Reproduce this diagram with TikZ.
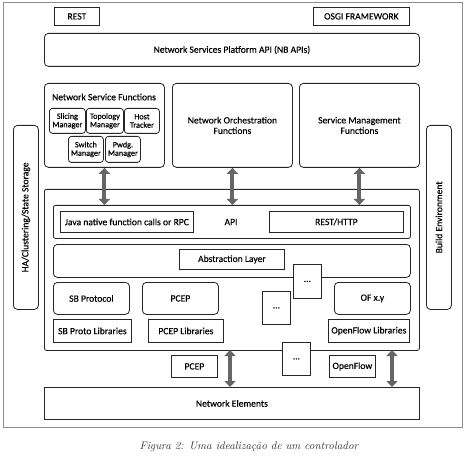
\documentclass[tikz,border=0pt]{standalone}
\usepackage{fontspec}
\setmainfont{Carlito}[FakeBold=0.35]
\newfontfamily\capfont{Latin Modern Roman}
\usetikzlibrary{arrows.meta}
\begin{document}
\begin{tikzpicture}[x=1pt,y=-1pt,
  bx/.style={draw=black!85, line width=0.8pt, anchor=north west, inner sep=0pt, align=center, fill=white, font=\fontsize{9.6}{10.5}\selectfont},
  rbx/.style={bx, rounded corners=4pt},
  sbx/.style={bx, rounded corners=3pt, font=\fontsize{8.2}{8.4}\selectfont},
  lbl/.style={inner sep=0pt, align=center, font=\fontsize{9.6}{10.5}\selectfont},
  dbl/.style={draw=black!60, line width=4pt, {Triangle[width=11pt,length=6pt]}-{Triangle[width=11pt,length=6pt]}}]
\useasboundingbox (0,0) rectangle (465,462);
\draw[black!45, line width=0.8pt] (3,2) rectangle (462,427);
% top
\node[bx, minimum width=45pt, minimum height=18pt] (rest) at (54,7) {REST};
\node[bx, minimum width=96pt, minimum height=18pt] (osgi) at (313,7) {OSGI FRAMEWORK};
\node[rbx, minimum width=375pt, minimum height=33pt] (nb) at (44,33) {Network Services Platform API (NB APIs)};
% function boxes
\node[rbx, minimum width=120pt, minimum height=84pt] (nsf) at (44,83) {};
\node[lbl] (nsft) at (104,97) {Network Service Functions};
\node[sbx, minimum width=36pt, minimum height=25pt] (slice) at (49,108) {Slicing\\Manager};
\node[sbx, minimum width=37pt, minimum height=25pt] (topo) at (86,108) {Topology\\Manager};
\node[sbx, minimum width=35pt, minimum height=25pt] (host) at (124,108) {Host\\Tracker};
\node[sbx, minimum width=35pt, minimum height=26pt] (switch) at (68,136) {Switch\\Manager};
\node[sbx, minimum width=35pt, minimum height=26pt] (pwdg) at (105,136) {Pwdg.\\Manager};
\node[rbx, minimum width=120pt, minimum height=84pt] (orch) at (172,83) {Network Orchestration\\Functions};
\node[rbx, minimum width=120pt, minimum height=84pt] (smf) at (299,83) {Service Management\\Functions};
% side boxes
\node[rbx, minimum width=25pt, minimum height=184pt] (left) at (13,125) {};
\node[lbl, rotate=90] (leftt) at (left.center) {HA/Clustering/State Storage};
\node[rbx, minimum width=25pt, minimum height=184pt] (right) at (426,125) {};
\node[lbl, rotate=90] (rightt) at (right.center) {Build Environment};
% controller
\node[bx, rounded corners=2pt, minimum width=375pt, minimum height=161pt] (ctrl) at (44,189) {};
\node[bx, rounded corners=2pt, minimum width=357pt, minimum height=33pt] (api) at (53,205) {};
\node[bx, minimum width=133pt, minimum height=21pt] (java) at (60,211) {Java native function calls or RPC};
\node[lbl] (apit) at (231,222) {API};
\node[bx, minimum width=134pt, minimum height=21pt] (resth) at (269,211) {REST/HTTP};
\node[rbx, minimum width=357pt, minimum height=33pt] (absrow) at (53,244) {};
\node[bx, minimum width=105pt, minimum height=20pt] (abs) at (179,249) {Abstraction Layer};
\node[bx, minimum width=28pt, minimum height=34pt] (dots1) at (293,264) {...};
\node[rbx, minimum width=76pt, minimum height=32pt] (sbp) at (53,282) {SB Protocol};
\node[rbx, minimum width=76pt, minimum height=32pt] (pcep) at (142,282) {PCEP};
\node[bx, minimum width=28pt, minimum height=33pt] (dots2) at (262,291) {...};
\node[rbx, minimum width=76pt, minimum height=32pt] (ofxy) at (334,282) {OF x.y};
\node[bx, minimum width=78pt, minimum height=23pt] (sbl) at (53,319) {SB Proto Libraries};
\node[bx, minimum width=75pt, minimum height=23pt] (pcepl) at (148,319) {PCEP Libraries};
\node[bx, minimum width=81pt, minimum height=23pt] (ofl) at (328,319) {OpenFlow Libraries};
\node[bx, minimum width=28pt, minimum height=33pt] (dots3) at (282,342) {...};
\node[bx, minimum width=46pt, minimum height=22pt] (pcepb) at (171,355) {PCEP};
\node[bx, minimum width=46pt, minimum height=22pt] (ofb) at (329,355) {OpenFlow};
\node[bx, minimum width=375pt, minimum height=32pt] (ne) at (44,387) {Network Elements};
% arrows
\draw[dbl] (nsf.south) -- (nsf.south |- api.north);
\draw[dbl] (orch.south) -- (orch.south |- api.north);
\draw[dbl] (smf.south) -- (smf.south |- api.north);
\coordinate (a1) at (230,350);
\coordinate (a2) at (392,350);
\draw[dbl] (a1) -- (a1 |- ne.north);
\draw[dbl] (a2) -- (a2 |- ne.north);
% caption
\node[inner sep=0pt, font=\capfont\itshape\fontsize{11}{12}\selectfont, text=black!80] (cap) at (249,447) {Figura 2: Uma idealização de um controlador};
\end{tikzpicture}
\end{document}
